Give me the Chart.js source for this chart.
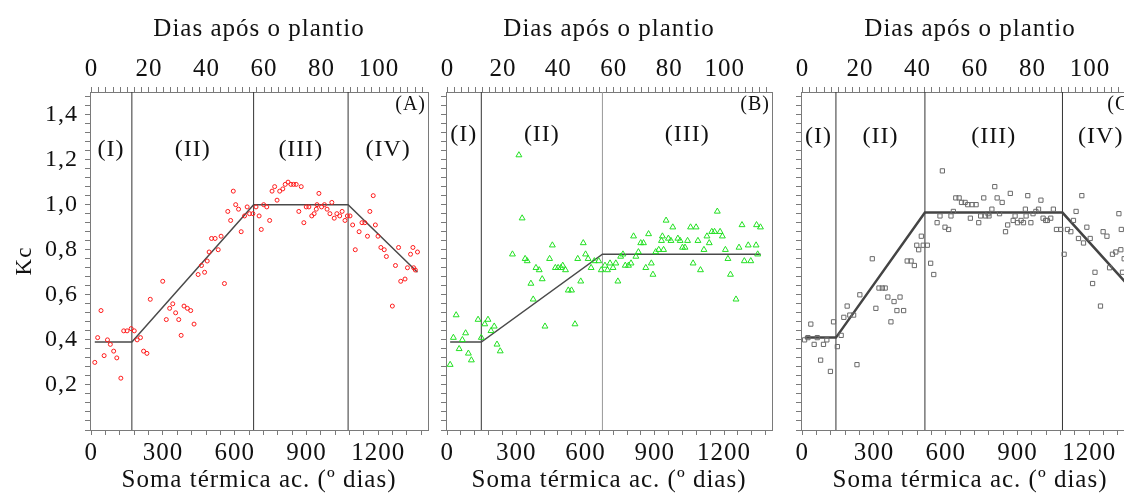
<!DOCTYPE html>
<html>
<head>
<meta charset="utf-8">
<script src="https://cdn.jsdelivr.net/npm/chart.js@4.4.1/dist/chart.umd.min.js"></script>
<style>
  html, body { margin: 0; padding: 0; background: #fff; overflow: hidden; }
  #wrap { position: relative; width: 1124px; height: 495px; overflow: hidden; }
  canvas { position: absolute; top: 0; }
</style>
</head>
<body>
<div id="wrap">
  <canvas id="panelA" width="440" height="495" style="left:0px"></canvas>
  <canvas id="panelB" width="354" height="495" style="left:436px"></canvas>
  <canvas id="panelC" width="360" height="495" style="left:790px"></canvas>
</div>
<script>
// ---- data (soma térmica ac. em ºdias, Kc) ----
const thermalA = [15,27,41,54,68,80,94,107,124,136,150,167,180,192,206,219,233,247,299,314,
  328,341,353,366,376,388,402,416,430,447,461,474,485,493,503,518,531,543,557,571,
  583,594,604,616,627,641,652,662,676,689,702,711,721,734,746,756,767,777,788,801,
  811,823,835,846,857,868,878,889,899,910,922,932,941,944,952,963,975,986,998,1006,
  1016,1027,1039,1049,1061,1071,1082,1093,1104,1120,1132,1144,1155,1165,1179,1188,1199,1211,1225,1234,
  1259,1272,1285,1294,1312,1322,1335,1345,1348,1355,1364];
const kcA = [0.30,0.41,0.53,0.33,0.40,0.38,0.35,0.32,0.23,0.44,0.44,0.45,0.44,0.40,0.41,0.35,0.34,0.58,0.66,0.49,
  0.54,0.56,0.52,0.49,0.42,0.55,0.54,0.53,0.47,0.69,0.73,0.70,0.75,0.79,0.85,0.85,0.80,0.86,0.65,0.97,
  0.93,1.06,1.00,0.98,0.88,0.95,0.99,0.96,0.96,0.99,0.95,0.89,1.00,0.99,0.93,1.06,1.08,1.02,1.06,1.07,
  1.09,1.10,1.09,1.09,1.09,0.97,1.08,0.92,0.99,0.99,0.95,0.96,0.98,1.00,1.05,0.99,1.00,0.98,0.96,1.01,
  0.94,0.96,0.95,0.97,0.93,0.95,0.95,0.91,0.80,0.88,0.92,0.92,0.86,0.97,1.04,0.91,0.86,0.81,0.80,0.77,
  0.55,0.73,0.81,0.66,0.67,0.72,0.78,0.81,0.72,0.71,0.79];
const fitThermalA = [15, 170, 679, 1074, 1364];
const fitKcA = [0.39, 0.39, 1.00, 1.00, 0.70];
const phasesA = [170, 679, 1074];

const thermalB = [13,27,39,52,66,80,92,105,134,148,163,177,190,204,216,230,283,311,325,338,
  347,363,373,385,399,412,424,444,456,469,481,493,501,513,525,539,554,566,579,590,
  600,611,624,638,657,668,684,695,706,719,731,740,752,762,772,786,797,808,818,829,
  839,851,861,873,885,892,904,917,929,933,938,949,959,970,978,1000,1010,1020,1031,1042,
  1055,1066,1079,1087,1098,1113,1126,1136,1147,1159,1171,1183,1193,1206,1217,1228,1252,1265,1278,1288,
  1305,1316,1339,1341,1346,1358];
const kcB = [0.29,0.41,0.51,0.36,0.40,0.43,0.34,0.31,0.49,0.41,0.47,0.49,0.44,0.46,0.38,0.35,0.78,1.22,0.94,0.76,
  0.75,0.65,0.58,0.72,0.71,0.67,0.46,0.76,0.82,0.72,0.72,0.72,0.73,0.71,0.62,0.62,0.47,0.76,0.66,0.83,
  0.78,0.76,0.72,0.75,0.75,0.71,0.73,0.71,0.74,0.72,0.74,0.66,0.77,0.78,0.73,0.73,0.74,0.86,0.77,0.79,
  0.83,0.83,0.72,0.87,0.74,0.69,0.79,0.80,0.84,0.86,0.80,0.93,0.85,0.84,0.90,0.85,0.84,0.81,0.81,0.84,
  0.90,0.74,0.90,0.84,0.71,0.80,0.86,0.83,0.88,0.88,0.97,0.88,0.86,0.80,0.76,0.69,0.58,0.81,0.91,0.75,
  0.82,0.75,0.82,0.91,0.78,0.90];
const fitThermalB = [13, 148, 673, 1359];
const fitKcB = [0.39, 0.39, 0.78, 0.78];
const phasesB = [148, 673];

const thermalC = [10,24,36,50,63,77,89,103,118,131,147,163,174,188,199,215,229,241,293,308,
  321,335,347,358,371,384,396,409,424,439,455,469,479,487,498,506,523,537,550,564,
  576,586,597,612,622,632,642,656,666,681,692,703,710,727,738,746,759,766,777,781,
  793,805,815,825,836,850,859,870,882,890,900,915,925,933,936,943,956,965,977,988,
  998,1007,1018,1025,1039,1050,1063,1081,1095,1109,1123,1134,1145,1155,1169,1176,1190,1204,1214,1224,
  1247,1258,1274,1285,1297,1311,1324,1332,1334,1339,1346];
const kcC = [0.40,0.41,0.47,0.38,0.41,0.31,0.38,0.40,0.26,0.48,0.37,0.42,0.50,0.55,0.51,0.51,0.29,0.60,0.76,0.54,
  0.63,0.63,0.63,0.59,0.48,0.57,0.53,0.59,0.53,0.75,0.75,0.73,0.82,0.80,0.86,0.82,0.82,0.74,0.69,0.92,
  0.95,1.15,0.90,0.89,0.95,0.97,1.03,1.03,1.01,1.01,1.00,0.94,1.00,1.00,0.92,0.95,1.03,0.95,0.96,0.95,
  0.98,1.08,1.03,0.96,1.01,0.88,0.91,1.05,0.93,0.95,0.92,0.93,0.92,0.98,0.95,1.04,0.92,0.96,0.97,0.98,
  1.02,0.94,0.93,0.93,0.94,0.98,0.89,0.89,0.78,0.89,0.88,0.93,0.97,0.85,1.04,0.83,0.90,0.85,0.65,0.70,
  0.55,0.88,0.86,0.72,0.78,0.79,0.96,0.80,0.89,0.70,0.76];
const fitThermalC = [11, 141, 513, 1088, 1365];
const fitKcC = [0.41, 0.41, 0.965, 0.965, 0.64];
const phasesC = [141, 513, 1088];

const stagesABC = ['(I)', '(II)', '(III)', '(IV)'];
const stagesB = ['(I)', '(II)', '(III)'];

// axes
const thermalTicks = [0, 300, 600, 900, 1200];
const dayTicks = [0, 20, 40, 60, 80, 100];
const kcTicks = [0.2, 0.4, 0.6, 0.8, 1.0, 1.2, 1.4];
const kcTickLabels = ['0,2', '0,4', '0,6', '0,8', '1,0', '1,2', '1,4'];

const THERMAL_MIN = -5, THERMAL_MAX = 1408;
const DAY_MIN = -0.5, DAY_MAX = 117;
const KC_MIN = 0, KC_MAX = 1.5;

const SERIF = '"Liberation Serif", "Times New Roman", serif';
const FRAME = '#7a7a7a';

function minorTicks(min, max, step) {
  const out = [];
  for (let i = Math.ceil(min / step); i * step <= max + 1e-9; i++) out.push({ value: +(i * step).toFixed(4) });
  return out;
}

function findTick(list, v) {
  return list.findIndex(t => Math.abs(t - v) < 1e-6);
}

// the original lettering is a little wider than Liberation Serif
const spacing = {
  id: 'spacing',
  beforeDraw(chart) { chart.ctx.letterSpacing = '1px'; }
};

const stageLabels = {
  id: 'stageLabels',
  afterDatasetsDraw(chart, args, opts) {
    const { ctx, chartArea, scales } = chart;
    const x = scales.x, y = scales.y;
    const edges = [THERMAL_MIN, ...opts.phases, THERMAL_MAX];
    ctx.save();
    ctx.fillStyle = '#111';
    ctx.textBaseline = 'middle';
    ctx.textAlign = 'center';
    ctx.font = '24px ' + SERIF;
    opts.names.forEach((name, i) => {
      const mid = (edges[i] + edges[i + 1]) / 2;
      ctx.fillText(name, x.getPixelForValue(mid), y.getPixelForValue(opts.kc));
    });
    ctx.textAlign = 'right';
    ctx.font = '20px ' + SERIF;
    ctx.fillText(opts.tag, chartArea.right - 2, chartArea.top + 13);
    ctx.restore();
  }
};

function panel(id, p) {
  const datasets = [
    {
      type: 'scatter',
      data: p.thermal.map((t, i) => ({ x: t, y: p.kc[i] })),
      pointStyle: p.marker,
      pointRadius: p.radius,
      borderColor: p.color,
      backgroundColor: 'rgba(0,0,0,0)',
      borderWidth: 1,
      xAxisID: 'x', yAxisID: 'y'
    },
    {
      type: 'line',
      data: p.fitX.map((t, i) => ({ x: t, y: p.fitY[i] })),
      borderColor: p.fitColor,
      borderWidth: p.fitWidth,
      pointRadius: 0,
      xAxisID: 'x', yAxisID: 'y'
    }
  ];
  p.phases.forEach((t, i) => datasets.push({
    type: 'line',
    data: [{ x: t, y: KC_MIN }, { x: t, y: KC_MAX }],
    borderColor: p.phaseColors[i],
    borderWidth: 1,
    pointRadius: 0,
    xAxisID: 'x', yAxisID: 'y'
  }));

  return new Chart(document.getElementById(id), {
    type: 'scatter',
    data: { datasets },
    plugins: [spacing, stageLabels],
    options: {
      responsive: false,
      animation: false,
      layout: { padding: 0 },
      plugins: {
        legend: { display: false },
        tooltip: { enabled: false },
        stageLabels: { names: p.names, phases: p.phases, kc: p.labelKc, tag: p.tag }
      },
      scales: {
        x: {
          type: 'linear', position: 'bottom', min: THERMAL_MIN, max: THERMAL_MAX, bounds: 'data',
          afterBuildTicks: s => { s.ticks = minorTicks(0, THERMAL_MAX, 60); },
          afterFit: s => { s.height = 65; },
          ticks: {
            autoSkip: false, maxRotation: 0, padding: 3, color: '#111',
            font: { family: SERIF, size: 25 },
            callback: v => findTick(thermalTicks, v) >= 0 ? String(v) : ''
          },
          grid: { drawOnChartArea: false, tickLength: 5, color: FRAME },
          border: { color: FRAME },
          title: { display: true, text: 'Soma térmica ac. (º dias)', color: '#111', padding: 0, font: { family: SERIF, size: 25 } }
        },
        top: {
          type: 'linear', position: 'top', min: DAY_MIN, max: DAY_MAX, bounds: 'data',
          afterBuildTicks: s => { s.ticks = minorTicks(0, DAY_MAX, 2.5); },
          afterFit: s => { s.height = 92; },
          ticks: {
            autoSkip: false, maxRotation: 0, padding: 3, color: '#111',
            font: { family: SERIF, size: 25 },
            callback: v => findTick(dayTicks, v) >= 0 ? String(v) : ''
          },
          grid: { drawOnChartArea: false, tickLength: 5, color: FRAME },
          border: { color: FRAME },
          title: { display: true, text: 'Dias após o plantio', color: '#111', padding: { top: 14 }, font: { family: SERIF, size: 25 } }
        },
        y: {
          type: 'linear', position: 'left', min: KC_MIN, max: KC_MAX, bounds: 'data',
          afterBuildTicks: s => { s.ticks = minorTicks(KC_MIN, KC_MAX, 0.04); },
          afterFit: s => { s.width = p.leftWidth; },
          ticks: {
            autoSkip: false, padding: 7, color: '#111',
            font: { family: SERIF, size: 24 },
            callback: v => {
              const k = findTick(kcTicks, v);
              return (p.showKc && k >= 0) ? kcTickLabels[k] : '';
            }
          },
          grid: { drawOnChartArea: false, tickLength: 5, color: FRAME },
          border: { color: FRAME },
          title: { display: p.showKc, text: 'Kc', color: '#111', padding: { top: 11 }, font: { family: SERIF, size: 23 } }
        },
        right: {
          type: 'linear', position: 'right', min: KC_MIN, max: KC_MAX,
          afterFit: s => { s.width = p.rightWidth; },
          ticks: { display: false },
          grid: { display: false },
          border: { display: true, color: FRAME }
        }
      }
    }
  });
}

panel('panelA', {
  thermal: thermalA, kc: kcA, fitX: fitThermalA, fitY: fitKcA, phases: phasesA,
  names: stagesABC, tag: '(A)', labelKc: 1.245,
  marker: 'circle', radius: 2, color: '#ff1a1a',
  fitColor: '#4a4a4a', fitWidth: 1.5, phaseColors: ['#333', '#333', '#333'],
  leftWidth: 90, rightWidth: 12, showKc: true
});

panel('panelB', {
  thermal: thermalB, kc: kcB, fitX: fitThermalB, fitY: fitKcB, phases: phasesB,
  names: stagesB, tag: '(B)', labelKc: 1.31,
  marker: 'triangle', radius: 3.4, color: '#22e022',
  fitColor: '#4a4a4a', fitWidth: 1.5, phaseColors: ['#333', '#999'],
  leftWidth: 10, rightWidth: 18, showKc: false
});

panel('panelC', {
  thermal: thermalC, kc: kcC, fitX: fitThermalC, fitY: fitKcC, phases: phasesC,
  names: stagesABC, tag: '(C)', labelKc: 1.30,
  marker: 'rect', radius: 3, color: '#6a6a6a',
  fitColor: '#444', fitWidth: 2.5, phaseColors: ['#333', '#333', '#333'],
  leftWidth: 11, rightWidth: 11, showKc: false
});
</script>
</body>
</html>
